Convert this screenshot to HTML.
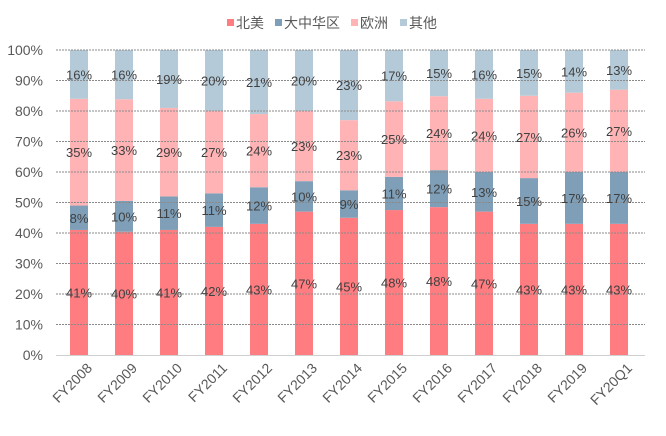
<!DOCTYPE html>
<html><head><meta charset="utf-8"><style>
body{margin:0;background:#fff}
svg text{font-family:"Liberation Sans","Noto Sans CJK SC",sans-serif}
</style></head><body>
<svg id="c" width="666" height="431" xmlns="http://www.w3.org/2000/svg">
<g id="legend"></g>
<g id="grid"></g>
<g id="bars"></g>
<g id="lines"></g>
<g id="labels"></g>
<g id="axes"></g>
</svg>
<script>
const categories=["FY2008","FY2009","FY2010","FY2011","FY2012","FY2013","FY2014","FY2015","FY2016","FY2017","FY2018","FY2019","FY20Q1"];
const northAmerica=[41,40,41,42,43,47,45,48,48,47,43,43,43];
const greaterChina=[8,10,11,11,12,10,9,11,12,13,15,17,17];
const europe=[35,33,29,27,24,23,23,25,24,24,27,26,27];
const other=[16,16,19,20,21,20,23,17,15,16,15,14,13];
const seriesNames=["北美","大中华区","欧洲","其他"];
const yTicks=[0,10,20,30,40,50,60,70,80,90,100];
const series=[northAmerica,greaterChina,europe,other];
const colors=["#FF7C80","#7F9FB8","#FFB3B5","#B4CAD8"];
const NS="http://www.w3.org/2000/svg";
const y0=355,y100=50,xL=56,xR=645,x0=79,step=45,bw=18;
const y=v=>y0-(y0-y100)*v/100;
const x=i=>x0+i*step;
function mk(tag,attrs,parent){const e=document.createElementNS(NS,tag);for(const k in attrs)e.setAttribute(k,attrs[k]);parent.appendChild(e);return e;}
const lines=document.getElementById('lines'),axes=document.getElementById('axes'),bars=document.getElementById('bars'),labels=document.getElementById('labels'),legend=document.getElementById('legend');
yTicks.forEach(t=>{
  if(t>0){const l=mk('line',{x1:xL,x2:xR,y1:y(t),y2:y(t),stroke:'#8a8a8a','stroke-width':1,'stroke-dasharray':'2,1'},lines);
  
  }
  const tx=mk('text',{x:43,y:y(t)+5,'text-anchor':'end','font-size':14,fill:'#595959'},axes);tx.textContent=t+'%';
  
  
});
const ax=mk('line',{x1:xL,x2:xR,y1:y0+0.5,y2:y0+0.5,stroke:'#d0d0d0','stroke-width':1},axes);


categories.forEach((c,i)=>{
  let cum=0;
  const total=series.reduce((a,s)=>a+s[i],0);
  series.forEach((s,k)=>{
    const v=s[i]/total*100;
    const r=mk('rect',{x:x(i)-bw/2,y:y(cum+v),width:bw,height:y(cum)-y(cum+v),fill:colors[k]},bars);
    
    
    const t=mk('text',{x:x(i),y:y(cum+v/2)+5,'text-anchor':'middle','font-size':13,fill:'#404040'},labels);
    t.textContent=s[i]+'%';
    
    
    cum+=v;
  });
  const ax2=x(i)+14, ay2=y0+14;
  const tl=mk('text',{x:ax2,y:ay2,'text-anchor':'end','font-size':14,fill:'#595959',transform:`rotate(-45 ${ax2} ${ay2})`},axes);
  tl.textContent=c;
  
  
});
const lx=[227,275,351,400];
seriesNames.forEach((n,k)=>{
  const r=mk('rect',{x:lx[k],y:19,width:7,height:7,fill:colors[k]},legend);
  
  
  const t=mk('text',{x:lx[k]+9,y:28,'font-size':14,fill:'#595959'},legend);
  t.textContent=n;
  
  
});
</script>
</body></html>
